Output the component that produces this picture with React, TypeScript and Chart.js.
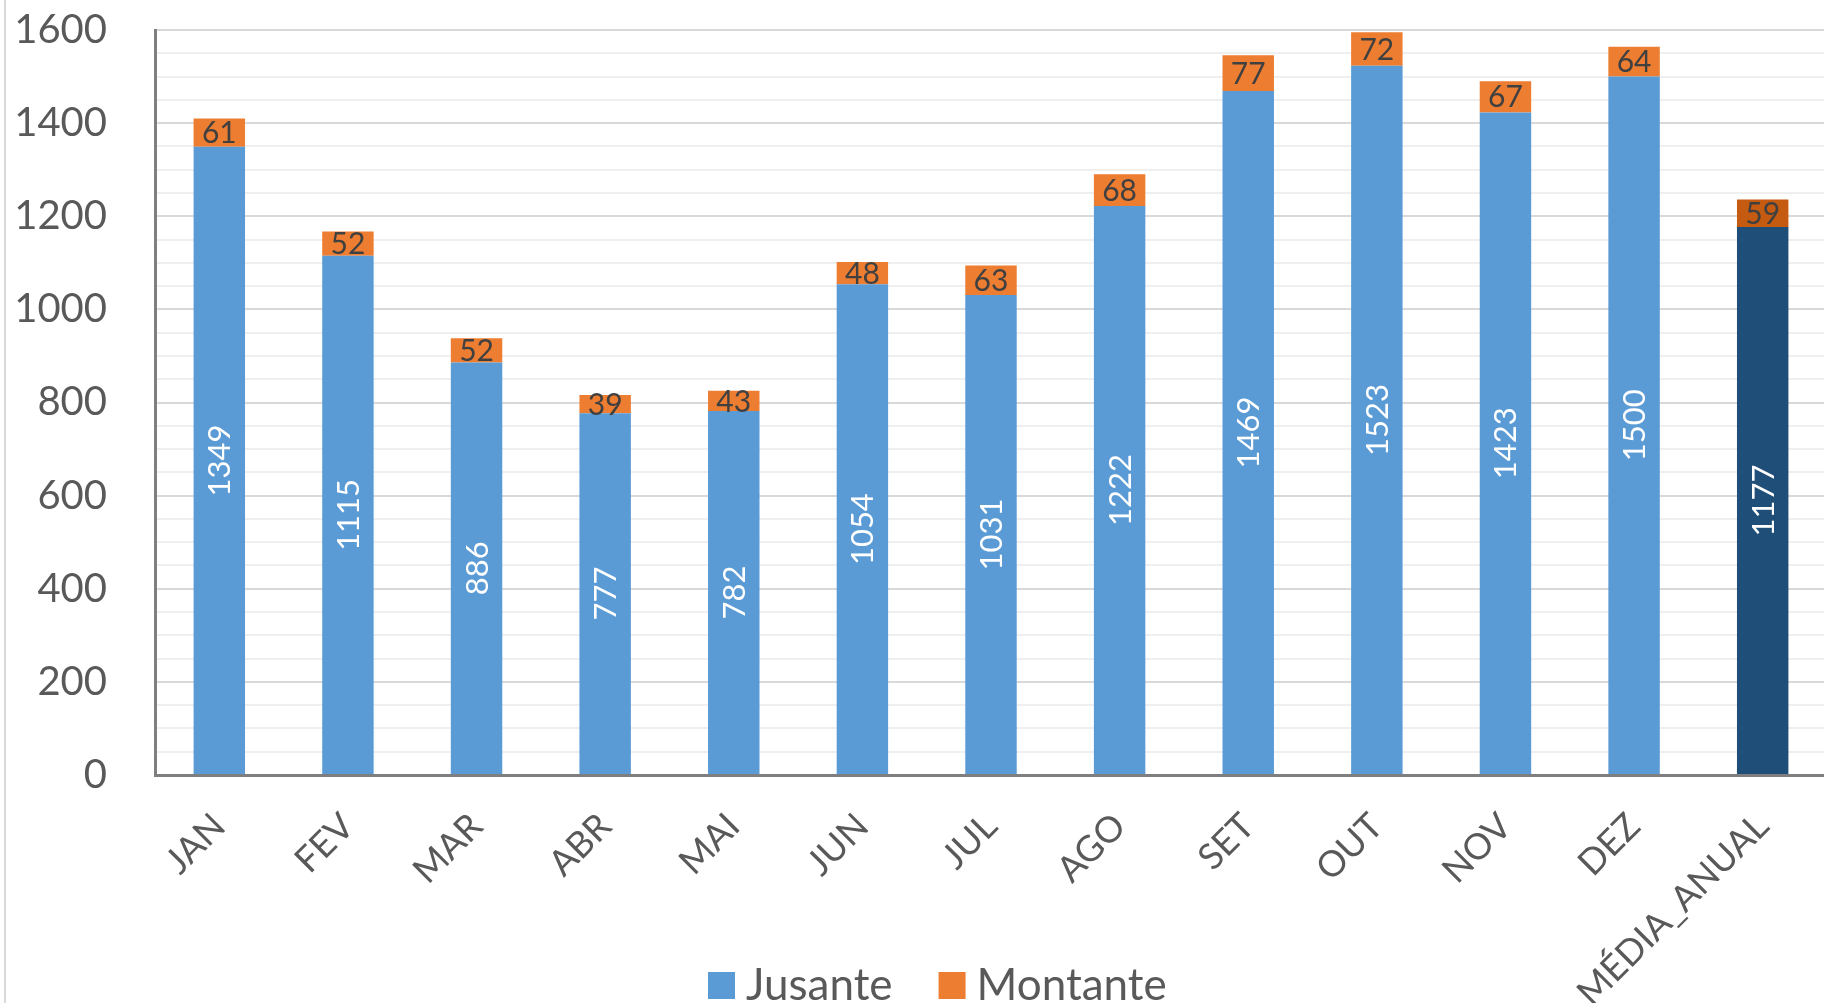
import React, { useEffect, useRef } from "react";
import { Chart, registerables } from "chart.js";

Chart.register(...registerables);

const categories = ["JAN", "FEV", "MAR", "ABR", "MAI", "JUN", "JUL", "AGO", "SET", "OUT", "NOV", "DEZ", "MÉDIA_ANUAL"];
const jusante = [1349, 1115, 886, 777, 782, 1054, 1031, 1222, 1469, 1523, 1423, 1500, 1177];
const montante = [61, 52, 52, 39, 43, 48, 63, 68, 77, 72, 67, 64, 59];
const yTickLabels = [0, 200, 400, 600, 800, 1000, 1200, 1400, 1600];
const seriesNames = ["Jusante", "Montante"];
const seriesColors = ["#5B9BD5", "#ED7D31"];
const averageColors = ["#1F4E79", "#C55A11"];

const FONT = "Lato, 'Liberation Sans', sans-serif";
const W = 1850;
const H = 1003;
const PLOT_BOTTOM = 775;
const PLOT_TOP = 30;
const PLOT_LEFT = 155;
const PLOT_RIGHT = 1827;

const barLabels = {
  id: "barLabels",
  afterDatasetsDraw(chart: any) {
    const ctx = chart.ctx;
    chart.data.datasets.forEach((ds: any, di: number) => {
      const meta = chart.getDatasetMeta(di);
      meta.data.forEach((bar: any, i: number) => {
        const { x, y, base } = bar.getProps(["x", "y", "base"], true);
        const cy = (y + base) / 2;
        ctx.save();
        ctx.textAlign = "center";
        ctx.textBaseline = "middle";
        if (di === 0) {
          ctx.font = `31px ${FONT}`;
          ctx.translate(x, cy);
          ctx.rotate(-Math.PI / 2);
          ctx.fillStyle = "#ffffff";
          ctx.fillText(String(ds.data[i]), 0, 1);
        } else {
          ctx.font = `30px ${FONT}`;
          ctx.fillStyle = "#404040";
          ctx.fillText(String(ds.data[i]), x, cy + 1);
        }
        ctx.restore();
      });
    });
  },
};

const frame = {
  id: "frame",
  beforeDraw(chart: any) {
    const ctx = chart.ctx;
    ctx.save();
    ctx.fillStyle = "#ffffff";
    ctx.fillRect(0, 0, chart.width, chart.height);
    ctx.fillStyle = "#d9d9d9";
    ctx.fillRect(4, 0, 2, chart.height);
    ctx.restore();
  },
  afterDraw(chart: any) {
    // legend
    const ctx = chart.ctx;
    ctx.save();
    ctx.font = `44px ${FONT}`;
    ctx.textBaseline = "alphabetic";
    ctx.textAlign = "left";
    let x = 708;
    seriesNames.forEach((name, i) => {
      ctx.fillStyle = seriesColors[i];
      ctx.fillRect(x, 972, 27, 27);
      ctx.fillStyle = "#595959";
      ctx.fillText(name, x + 38, 1000);
      x = x + 38 + ctx.measureText(name).width + 46;
    });
    ctx.restore();
  },
};

export default function App() {
  const ref = useRef<HTMLCanvasElement | null>(null);

  useEffect(() => {
    if (!ref.current) return;
    const chart = new Chart(ref.current, {
      type: "bar",
      data: {
        labels: categories,
        datasets: seriesNames.map((name, si) => ({
          label: name,
          data: si === 0 ? jusante : montante,
          backgroundColor: (c: any) => (c.dataIndex === categories.length - 1 ? averageColors[si] : seriesColors[si]),
          borderWidth: 0,
        })),
      },
      options: {
        animation: false,
        responsive: false,
        maintainAspectRatio: false,
        layout: { padding: { top: PLOT_TOP, left: 0, right: W - PLOT_RIGHT, bottom: 0 } },
        datasets: { bar: { categoryPercentage: 0.4, barPercentage: 1 } },
        plugins: {
          tooltip: { enabled: false },
          legend: { display: false },
        },
        scales: {
          x: {
            stacked: true,
            grid: { display: false, drawTicks: false },
            border: { display: true, color: "#7f7f7f", width: 3 },
            ticks: {
              autoSkip: false,
              minRotation: 45,
              maxRotation: 45,
              padding: 30,
              color: "#595959",
              font: { family: FONT, size: 36 },
            },
            afterFit: (s: any) => {
              s.height = H - PLOT_BOTTOM;
              s.paddingLeft = 0;
              s.paddingRight = 0;
            },
          },
          y: {
            stacked: true,
            min: 0,
            max: 1600,
            grid: {
              drawTicks: false,
              lineWidth: 2,
              color: (c: any) => (c.tick && c.tick.value % 200 === 0 ? "#d9d9d9" : "#efefef"),
            },
            border: { display: true, color: "#7f7f7f", width: 3 },
            ticks: {
              stepSize: 50,
              autoSkip: false,
              padding: 48,
              color: "#595959",
              font: { family: FONT, size: 40 },
              callback: (v: any) => (yTickLabels.includes(Number(v)) ? String(v) : ""),
            },
            afterFit: (s: any) => {
              s.width = PLOT_LEFT;
              s.paddingTop = 0;
              s.paddingBottom = 0;
            },
          },
        },
      },
      plugins: [barLabels, frame],
    } as any);
    return () => chart.destroy();
  }, []);

  return (
    <div
      style={{
        position: "absolute",
        left: 0,
        top: 0,
        width: 1824,
        height: 1003,
        overflow: "hidden",
        background: "#ffffff",
      }}
    >
      <canvas ref={ref} width={W} height={H} style={{ display: "block", width: W, height: H }} />
    </div>
  );
}
